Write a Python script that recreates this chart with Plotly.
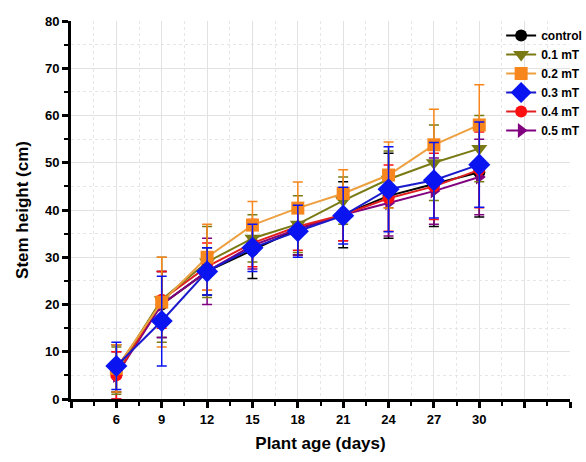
import plotly.graph_objects as go

days = [6, 9, 12, 15, 18, 21, 24, 27, 30]
series_names = ["control", "0.1 mT", "0.2 mT", "0.3 mT", "0.4 mT", "0.5 mT"]
control = [6.5, 20, 27, 31.5, 36, 39, 43, 45.5, 48]
mt01 = [6, 21, 29, 34, 37, 42, 46.5, 50, 53]
mt02 = [6.5, 20.5, 30, 36.8, 40.4, 43.5, 47.4, 53.8, 58]
mt03 = [7, 16.5, 27, 32, 35.5, 38.8, 44.4, 46.3, 49.6]
mt04 = [5, 21, 28, 33, 36.5, 39, 42.5, 45, 48.5]
mt05 = [5, 20, 27, 32.5, 36, 39, 41.5, 44, 47]
err_control = [5, 7, 5, 6, 5.5, 7, 9, 9, 9.5]
err_01 = [5, 9, 7.5, 5, 6, 5, 6, 8, 7]
err_02 = [5, 9.5, 7, 5, 5.5, 5, 7, 7.5, 8.5]
err_03 = [5, 9.5, 5, 5, 5.5, 6, 9, 8, 9]
err_04 = [5, 6, 5, 5, 5, 5.5, 7, 7, 8]
err_05 = [5, 7, 7, 5, 5.5, 5.5, 7, 7, 8]
x_ticks = [3, 6, 9, 12, 15, 18, 21, 24, 27, 30, 33, 36]
x_ticktext = ["", "6", "9", "12", "15", "18", "21", "24", "27", "30", "", ""]

styles = {
    "control": dict(color="#000000", line="#000000", symbol="circle", size=12),
    "0.1 mT": dict(color="#7a7a14", line="#7a7a14", symbol="triangle-down", size=14),
    "0.2 mT": dict(color="#f7861c", line="#eda040", symbol="square", size=13),
    "0.3 mT": dict(color="#0a14f0", line="#1a1acc", symbol="diamond", size=17),
    "0.4 mT": dict(color="#ff1010", line="#e02020", symbol="circle", size=12),
    "0.5 mT": dict(color="#800080", line="#800080", symbol="triangle-right", size=13),
}
data = {
    "control": (control, err_control),
    "0.1 mT": (mt01, err_01),
    "0.2 mT": (mt02, err_02),
    "0.3 mT": (mt03, err_03),
    "0.4 mT": (mt04, err_04),
    "0.5 mT": (mt05, err_05),
}
draw_order = ["control", "0.5 mT", "0.4 mT", "0.1 mT", "0.2 mT", "0.3 mT"]

fig = go.Figure()
for name in draw_order:
    ys, es = data[name]
    st = styles[name]
    fig.add_trace(go.Scatter(
        x=days, y=ys, name=name, mode="lines+markers",
        legendrank=series_names.index(name) + 1,
        line=dict(color=st["line"], width=2),
        marker=dict(color=st["color"], symbol=st["symbol"], size=st["size"]),
        error_y=dict(type="data", array=es, visible=True, color=st["color"],
                     thickness=1.5, width=5),
    ))

fig.update_layout(
    width=586, height=462,
    margin=dict(l=71, r=16, t=21, b=63, autoexpand=False),
    plot_bgcolor="white", paper_bgcolor="white",
    font=dict(family="Arial, Liberation Sans, sans-serif", color="black"),
    legend=dict(x=0.862, y=1.0, xanchor="left", yanchor="top",
                font=dict(size=12, family="Arial, Liberation Sans, sans-serif", weight="bold"),
                bgcolor="rgba(0,0,0,0)", tracegroupgap=0, itemwidth=30),
    showlegend=True,
)
fig.update_xaxes(
    range=[3, 36], tickmode="array", tickvals=x_ticks, ticktext=x_ticktext,
    showline=True, linecolor="black", linewidth=3, ticks="outside",
    ticklen=6, tickwidth=2.5, tickcolor="black",
    tickfont=dict(size=13, weight="bold"),
    showgrid=True, gridcolor="#e2e2e2", gridwidth=1, zeroline=False,
    minor=dict(tickmode="linear", tick0=3, dtick=1.5, ticks="outside", ticklen=4,
               tickwidth=2, tickcolor="black", showgrid=True, gridcolor="#e6e6e6",
               griddash="dot"),
    title=dict(text="Plant age (days)", font=dict(size=17, weight="bold"), standoff=12),
)
fig.update_yaxes(
    range=[0, 80], tickmode="linear", tick0=0, dtick=10,
    showline=True, linecolor="black", linewidth=3, ticks="outside",
    ticklen=6, tickwidth=2.5, tickcolor="black",
    tickfont=dict(size=13, weight="bold"),
    showgrid=True, gridcolor="#e2e2e2", gridwidth=1, zeroline=False,
    minor=dict(tickmode="linear", tick0=0, dtick=5, ticks="outside", ticklen=4,
               tickwidth=2, tickcolor="black", showgrid=True, gridcolor="#e6e6e6",
               griddash="dot"),
    title=dict(text="Stem height (cm)", font=dict(size=17, weight="bold"), standoff=12),
)

fig.write_html("out.html")
